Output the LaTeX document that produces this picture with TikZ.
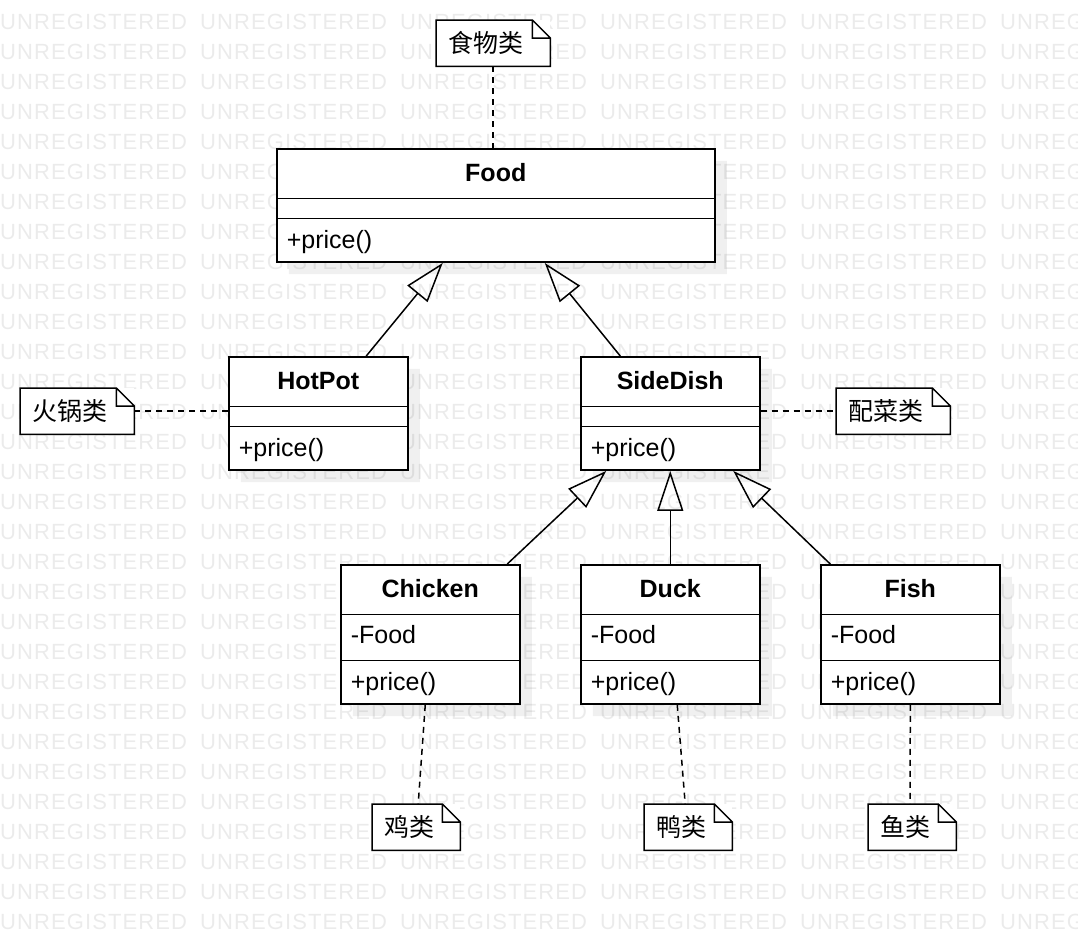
\documentclass[tikz,border=0pt]{standalone}
\usepackage{fontspec}
\setmainfont{Liberation Sans}
\newfontfamily\cjk{Noto Sans CJK SC}
\newfontfamily\wmfont[LetterSpace=5]{Liberation Sans}
\usetikzlibrary{arrows.meta,positioning,shapes.multipart,shadows,calc}
\definecolor{Ink}{HTML}{000000}
\definecolor{Mark}{HTML}{EBEBEB}
\newcommand{\umltitle}[1]{\hbox to\hsize{\hfil\rule[-16pt]{0pt}{48.3pt}\textbf{#1}\hfil}}
\newcommand{\umlgap}{\rule{0pt}{18.3pt}}
\newcommand{\umlattr}[1]{\rule[-16pt]{0pt}{44.3pt}#1}
\newcommand{\umlop}[1]{\rule[-13pt]{0pt}{42.3pt}#1}
\newcommand{\dogear}[1]{%
  \draw[noteline] (#1.north west) -- ([xshift=-18pt]#1.north east)
    -- ([yshift=-18pt]#1.north east) -- (#1.south east) -- (#1.south west) -- cycle
    ([xshift=-18pt]#1.north east) -- ([xshift=-18pt,yshift=-18pt]#1.north east)
    -- ([yshift=-18pt]#1.north east);}
\tikzset{
  umlclass/.style={
    rectangle split,rectangle split parts=#1,draw=Ink,line width=1.5pt,fill=white,
    anchor=north west,inner xsep=10pt,inner ysep=0pt,align=left,
    font=\fontsize{25}{29}\selectfont,
    drop shadow={shadow xshift=12pt,shadow yshift=-12pt,opacity=.06,fill=black}
  },
  note/.style={
    draw=none,fill=white,anchor=north west,inner xsep=12pt,inner ysep=0pt,
    minimum height=46pt,align=left,font=\cjk\fontsize{25}{29}\selectfont
  },
  noteline/.style={line width=1.5pt,draw=Ink,line join=miter},
  gen/.style={-{Triangle[open,length=40pt,width=26pt]},line width=1.5pt,draw=Ink},
  link/.style={line width=1.5pt,dash pattern=on 6pt off 5pt,draw=Ink},
  watermark/.style={anchor=base west,inner sep=0pt,text=Mark,font=\wmfont\fontsize{22}{26}\selectfont}
}

\begin{document}
\begin{tikzpicture}[x=1pt,y=-1pt]
  \useasboundingbox (0,0) rectangle (1078,932);
  \begin{scope}
    \clip (0,0) rectangle (1078,932);
    \foreach \r in {0,...,30}
      \foreach \c in {0,...,5}
        \node[watermark] (wm-\r-\c) at (200*\c,29+30*\r) {UNREGISTERED};
  \end{scope}

  \node[umlclass=3,text width=418pt] (food) at (276,148) {
    \umltitle{Food}\nodepart{two}\umlgap\nodepart{three}\umlop{+price()}
  };
  \node[umlclass=3,text width=159pt] (hotpot) at (228,356) {
    \umltitle{HotPot}\nodepart{two}\umlgap\nodepart{three}\umlop{+price()}
  };
  \node[umlclass=3,text width=159pt] (sidedish) at (580,356) {
    \umltitle{SideDish}\nodepart{two}\umlgap\nodepart{three}\umlop{+price()}
  };
  \node[umlclass=3,text width=159pt] (chicken) at (340,564) {
    \umltitle{Chicken}\nodepart{two}\umlattr{-Food}\nodepart{three}\umlop{+price()}
  };
  \node[umlclass=3,text width=159pt] (duck) at (580,564) {
    \umltitle{Duck}\nodepart{two}\umlattr{-Food}\nodepart{three}\umlop{+price()}
  };
  \node[umlclass=3,text width=159pt] (fish) at (820,564) {
    \umltitle{Fish}\nodepart{two}\umlattr{-Food}\nodepart{three}\umlop{+price()}
  };

  \node[note,text width=90pt] (n-food) at (436,20) {食物类};
  \node[note,text width=90pt] (n-hotpot) at (20,388) {火锅类};
  \node[note,text width=90pt] (n-side) at (836,388) {配菜类};
  \node[note,text width=64pt] (n-chicken) at (372,804) {鸡类};
  \node[note,text width=64pt] (n-duck) at (644,804) {鸭类};
  \node[note,text width=64pt] (n-fish) at (868,804) {鱼类};
  \foreach \n in {n-food,n-hotpot,n-side,n-chicken,n-duck,n-fish}{
    \dogear{\n}
  }

  \draw[gen] ($(hotpot.north)+(48,0)$) -- ($(food.south)+(-53,0)$);
  \draw[gen] ($(sidedish.north)+(-50,0)$) -- ($(food.south)+(49,0)$);
  \draw[gen] ($(chicken.north)+(77,0)$) -- ($(sidedish.south)+(-64,0)$);
  \draw[gen] (duck.north) -- (sidedish.south);
  \draw[gen] ($(fish.north)+(-80,0)$) -- ($(sidedish.south)+(63,0)$);

  \draw[link] (n-food.south) -- (n-food.south |- food.north);
  \draw[link] (n-hotpot.east) -- (n-hotpot.east -| hotpot.west);
  \draw[link] (sidedish.east |- n-side.west) -- (n-side.west);
  \draw[link] ($(chicken.south)+(-5,0)$) -- ($(n-chicken.north)+(2,0)$);
  \draw[link] ($(duck.south)+(7,0)$) -- ($(n-duck.north)+(-3,0)$);
  \draw[link] (fish.south) -- ($(n-fish.north)+(-2,0)$);
\end{tikzpicture}
\end{document}
